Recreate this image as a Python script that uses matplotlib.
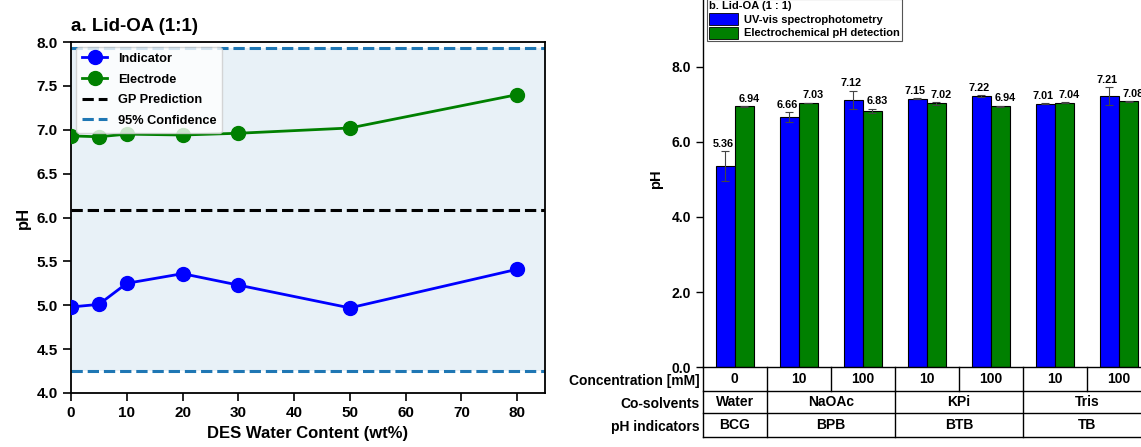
import matplotlib
matplotlib.use("Agg")
import matplotlib.pyplot as plt
import matplotlib.transforms as mtransforms
from matplotlib.patches import Patch
import numpy as np

plt.rcParams['font.family'] = ['Liberation Sans', 'DejaVu Sans']
plt.rcParams['font.weight'] = 'bold'
plt.rcParams['axes.labelweight'] = 'bold'
plt.rcParams['axes.titleweight'] = 'bold'

# panel a: pH vs DES water content
water_content = [0, 5, 10, 20, 30, 50, 80]
indicator_ph = [4.98, 5.01, 5.25, 5.36, 5.23, 4.97, 5.41]
electrode_ph = [6.93, 6.92, 6.95, 6.94, 6.96, 7.02, 7.40]
gp_prediction = 6.09
conf_low = 4.25
conf_high = 7.93

# panel b: bar chart with table underneath
uv_vis = [5.36, 6.66, 7.12, 7.15, 7.22, 7.01, 7.21]
uv_vis_err = [0.40, 0.13, 0.24, 0.01, 0.02, 0.01, 0.24]
electrochem = [6.94, 7.03, 6.83, 7.02, 6.94, 7.04, 7.08]
electrochem_err = [0.01, 0.01, 0.05, 0.03, 0.02, 0.01, 0.01]
concentrations = ['0', '10', '100', '10', '100', '10', '100']
cosolvents = ['Water', 'NaOAc', 'KPi', 'Tris']
indicators = ['BCG', 'BPB', 'BTB', 'TB']
group_spans = [(0, 0), (1, 2), (3, 4), (5, 6)]

fig = plt.figure(figsize=(11.41, 4.47), dpi=100)

# ---------- panel a ----------
ax1 = fig.add_axes([71 / 1141, 54 / 447, 474 / 1141, 351 / 447])
ax1.fill_between([0, 85], conf_low, conf_high, color='#1f77b4', alpha=0.1, lw=0)
ax1.plot(water_content, indicator_ph, '-o', color='blue', lw=2, ms=10, label='Indicator', zorder=3)
ax1.plot(water_content, electrode_ph, '-o', color='green', lw=2, ms=10, label='Electrode', zorder=3)
ax1.axhline(gp_prediction, color='black', ls='--', lw=2.2, label='GP Prediction')
ax1.axhline(conf_high, color='#1f77b4', ls='--', lw=2.2, label='95% Confidence')
ax1.axhline(conf_low, color='#1f77b4', ls='--', lw=2.2)
ax1.set_xlim(0, 85)
ax1.set_ylim(4.0, 8.0)
ax1.set_xticks(range(0, 90, 10))
ax1.set_yticks(np.arange(4.0, 8.01, 0.5))
ax1.set_yticklabels([f'{v:.1f}' for v in np.arange(4.0, 8.01, 0.5)])
ax1.tick_params(labelsize=11, length=6, width=1.2)
for s in ax1.spines.values():
    s.set_linewidth(1.3)
ax1.set_xlabel('DES Water Content (wt%)', fontsize=12, labelpad=4)
ax1.set_ylabel('pH', fontsize=12, labelpad=4)
ax1.set_title('a. Lid-OA (1:1)', fontsize=13.5, loc='left', pad=8)
ax1.legend(loc='upper left', fontsize=9.2, borderaxespad=0.4, labelspacing=0.68, borderpad=0.45)

# ---------- panel b ----------
ax2 = fig.add_axes([702.7 / 1141, 79.7 / 447, 448.3 / 1141, 375.8 / 447])
x = np.arange(len(uv_vis))
w = 0.3
ax2.bar(x - w / 2, uv_vis, w, color='blue', edgecolor='black', lw=0.8,
        yerr=uv_vis_err, error_kw=dict(ecolor='#444444', elinewidth=0.8, capsize=3, capthick=0.8))
ax2.bar(x + w / 2, electrochem, w, color='green', edgecolor='black', lw=0.8,
        yerr=electrochem_err, error_kw=dict(ecolor='#444444', elinewidth=0.8, capsize=3, capthick=0.8))
for i in range(len(x)):
    ax2.text(x[i] - w / 2 - 0.03, uv_vis[i] + uv_vis_err[i] + 0.06, f'{uv_vis[i]:.2f}',
             ha='center', va='bottom', fontsize=7.8)
    ax2.text(x[i] + w / 2 + 0.07, electrochem[i] + electrochem_err[i] + 0.06, f'{electrochem[i]:.2f}',
             ha='center', va='bottom', fontsize=7.8)
ax2.set_xlim(-0.5, 6.5)
ax2.set_ylim(0, 10)
ax2.set_xticks([])
ax2.set_yticks([0, 2, 4, 6, 8])
ax2.set_yticklabels(['0.0', '2.0', '4.0', '6.0', '8.0'])
ax2.tick_params(axis='y', labelsize=10, length=5, width=1)
ax2.spines['top'].set_visible(False)
ax2.spines['right'].set_visible(False)
ax2.spines['left'].set_linewidth(1)
ax2.spines['bottom'].set_linewidth(1)
ax2.set_ylabel('pH', fontsize=10.5, labelpad=6)

handles = [Patch(facecolor='blue', edgecolor='black', lw=0.6, label='UV-vis spectrophotometry'),
           Patch(facecolor='green', edgecolor='black', lw=0.6, label='Electrochemical pH detection')]
leg = ax2.legend(handles=handles, title='b. Lid-OA (1 : 1)', alignment='left',
                 loc='upper left', bbox_to_anchor=(707 / 1141, 1 + 1 / 447),
                 bbox_transform=fig.transFigure, fontsize=8, title_fontsize=8,
                 fancybox=False, edgecolor='#555555', framealpha=1,
                 borderpad=0.2, labelspacing=0.15, handlelength=2.6, handleheight=1.3,
                 handletextpad=0.5, borderaxespad=0)
leg.get_frame().set_linewidth(0.8)
leg.get_title().set_fontweight('bold')

# table under the bars
trans = mtransforms.blended_transform_factory(ax2.transData, ax2.transAxes)
rows = [0.0, -0.063, -0.1215, -0.185]
lk = dict(color='black', lw=1, transform=trans, clip_on=False)
for r in rows[1:]:
    ax2.plot([-0.5, 7.5], [r, r], **lk)
ax2.plot([-0.5, -0.5], [rows[0], rows[3]], **lk)
for b in np.arange(0.5, 7.0, 1.0):
    ax2.plot([b, b], [rows[0], rows[1]], **lk)
for a, b in group_spans:
    ax2.plot([b + 0.5, b + 0.5], [rows[1], rows[3]], **lk)
for i, c in enumerate(concentrations):
    ax2.text(i, (rows[0] + rows[1]) / 2, c, transform=trans, ha='center', va='center', fontsize=10)
for (a, b), cs, ind in zip(group_spans, cosolvents, indicators):
    ax2.text((a + b) / 2, (rows[1] + rows[2]) / 2, cs, transform=trans, ha='center', va='center', fontsize=10)
    ax2.text((a + b) / 2, (rows[2] + rows[3]) / 2, ind, transform=trans, ha='center', va='center', fontsize=10)
row_labels = ['Concentration [mM]', 'Co-solvents', 'pH indicators']
for j, lab in enumerate(row_labels):
    ax2.text(-0.006, (rows[j] + rows[j + 1]) / 2 - 0.005, lab, transform=ax2.transAxes,
             ha='right', va='center', fontsize=10)

fig.savefig('out.png', dpi=100)
